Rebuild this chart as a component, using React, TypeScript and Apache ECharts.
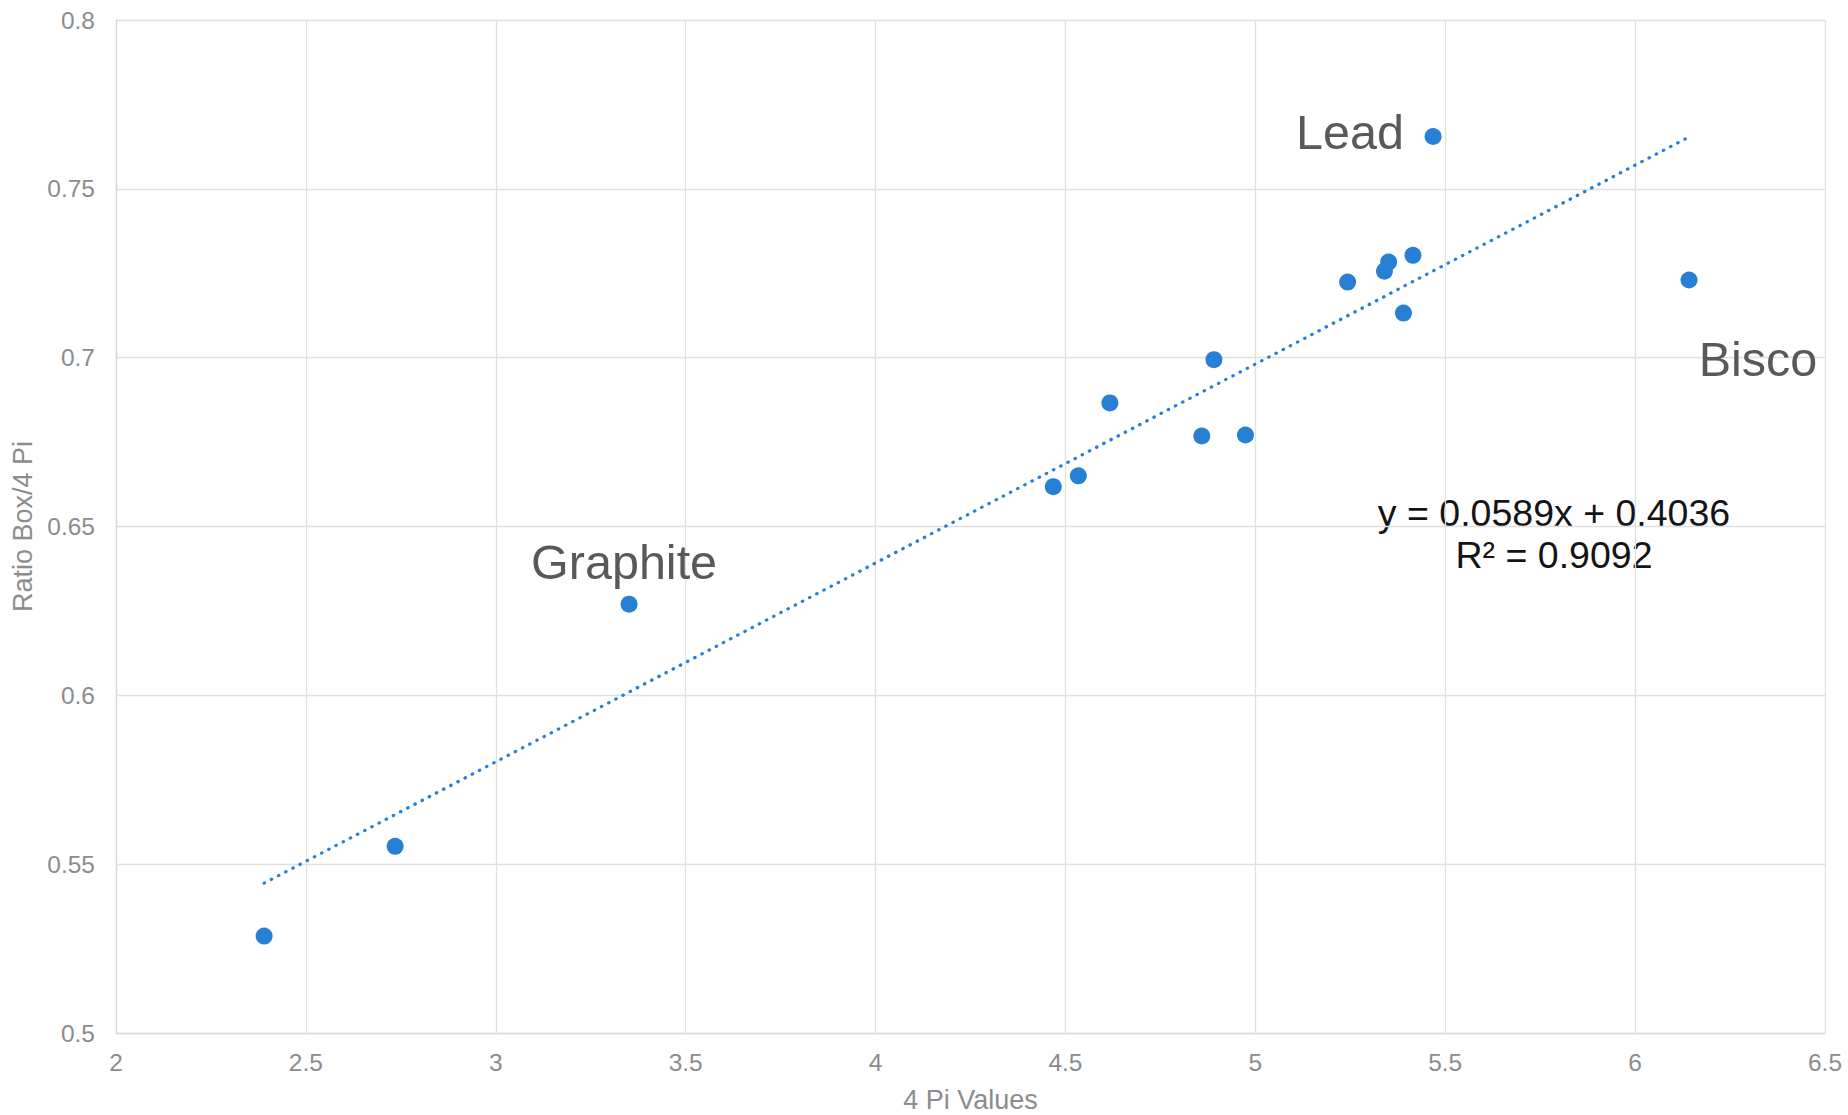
import React, { useEffect, useRef } from "react";
import * as echarts from "echarts";

const xValues = [2.39, 2.735, 3.351, 4.468, 4.534, 4.617, 4.859, 4.891, 4.974, 5.243, 5.34, 5.351, 5.415, 5.39, 5.468, 6.142];
const yValues = [0.5287, 0.5553, 0.627, 0.6618, 0.665, 0.6866, 0.6768, 0.6994, 0.6771, 0.7224, 0.7256, 0.7283, 0.7303, 0.7132, 0.7655, 0.723];
const pointNames = ["", "", "Graphite", "", "", "", "", "", "", "", "", "", "", "", "Lead", "Bisco"];
const trendSlope = 0.0589;
const trendIntercept = 0.4036;
const equationText = "y = 0.0589x + 0.4036";
const r2Text = "R² = 0.9092";
const xTitle = "4 Pi Values";
const yTitle = "Ratio Box/4 Pi";

const labelOffsets: Record<string, number[]> = {
  Graphite: [-5, -42],
  Lead: [-83, -4],
  Bisco: [69, 79],
};

const BLUE = "#2780d3";
const GRID = "#e0e0e0";
const TICK = "#8c8c8c";

export default function App() {
  const ref = useRef<HTMLDivElement>(null);
  useEffect(() => {
    if (!ref.current) return;
    const chart = echarts.init(ref.current, undefined, { renderer: "svg" });
    const minX = Math.min(...xValues);
    const maxX = Math.max(...xValues);
    const trend = [
      [minX, trendSlope * minX + trendIntercept],
      [maxX, trendSlope * maxX + trendIntercept],
    ];
    const scatterData = xValues.map((x, i) => {
      const name = pointNames[i];
      const item: any = { value: [x, yValues[i]], name };
      if (name) {
        item.label = {
          show: true,
          formatter: name,
          position: "inside",
          offset: labelOffsets[name],
          align: "center",
          verticalAlign: "middle",
          fontSize: 48.5,
          color: "#595959",
          fontFamily: "Liberation Sans, Arial, sans-serif",
        };
      }
      return item;
    });
    chart.setOption({
      animation: false,
      backgroundColor: "#ffffff",
      textStyle: { fontFamily: "Liberation Sans, Arial, sans-serif" },
      grid: { left: 116, right: 23, top: 20, bottom: 82, containLabel: false, outerBoundsMode: "none" },
      xAxis: {
        type: "value",
        min: 2,
        max: 6.5,
        interval: 0.5,
        name: xTitle,
        nameLocation: "middle",
        nameGap: 53,
        nameTextStyle: { fontSize: 27, color: TICK },
        axisLine: { show: true, lineStyle: { color: "#d9d9d9", width: 1.3 } },
        axisTick: { show: false },
        axisLabel: { fontSize: 24.5, color: TICK, margin: 17 },
        splitLine: { show: true, lineStyle: { color: GRID, width: 1.3 } },
      },
      yAxis: {
        type: "value",
        min: 0.5,
        max: 0.8,
        interval: 0.05,
        name: yTitle,
        nameLocation: "middle",
        nameGap: 76,
        nameRotate: 90,
        nameTextStyle: { fontSize: 27, color: TICK },
        axisLine: { show: true, lineStyle: { color: "#d9d9d9", width: 1.3 } },
        axisTick: { show: false },
        axisLabel: { fontSize: 24.5, color: TICK, margin: 21 },
        splitLine: { show: true, lineStyle: { color: GRID, width: 1.3 } },
      },
      series: [
        {
          type: "line",
          data: trend,
          showSymbol: false,
          symbol: "none",
          silent: true,
          lineStyle: { color: BLUE, width: 3.2, type: [0.5, 7.6], cap: "round" },
          z: 2,
        },
        {
          type: "scatter",
          data: scatterData,
          symbol: "circle",
          symbolSize: 17,
          itemStyle: { color: BLUE, opacity: 1 },
          z: 3,
        },
      ],
      graphic: [
        {
          type: "text",
          x: 1554,
          y: 491.5,
          style: {
            text: equationText + "\n" + r2Text,
            align: "center",
            verticalAlign: "top",
            fontSize: 37.5,
            lineHeight: 42,
            fill: "#141414",
            fontFamily: "Liberation Sans, Arial, sans-serif",
          },
        },
      ],
    });
    return () => chart.dispose();
  }, []);
  return <div ref={ref} style={{ width: 1848, height: 1115, position: "absolute", left: 0, top: 0 }} />;
}
